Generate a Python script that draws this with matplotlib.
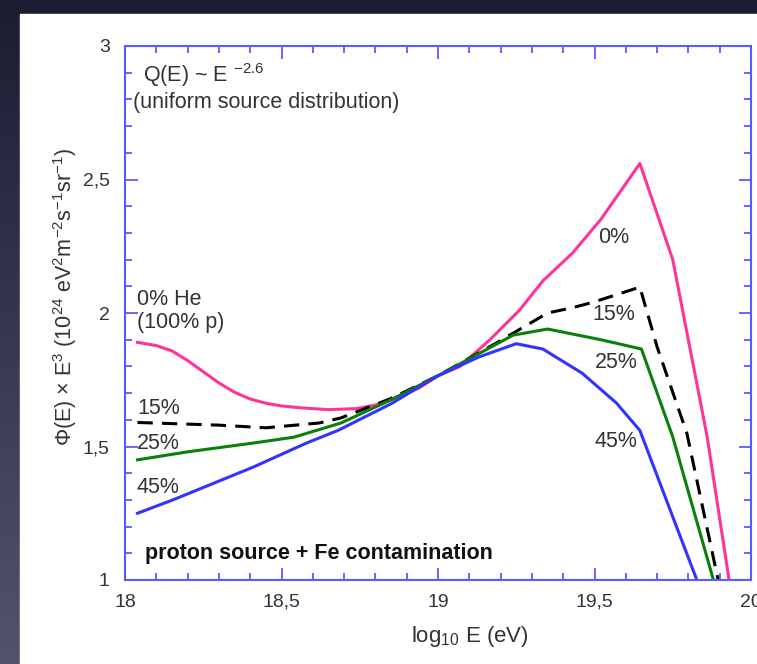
import numpy as np
import matplotlib
matplotlib.use("Agg")
import matplotlib.pyplot as plt
from matplotlib.ticker import MultipleLocator, FuncFormatter
from matplotlib.patches import Rectangle

plt.rcParams['font.family'] = ['Liberation Sans', 'DejaVu Sans']
plt.rcParams['mathtext.fontset'] = 'custom'
plt.rcParams['mathtext.rm'] = 'Liberation Sans'
plt.rcParams['mathtext.it'] = 'Liberation Sans:italic'
plt.rcParams['mathtext.bf'] = 'Liberation Sans:bold'

# Propagated spectra E^3 * flux for several Fe fractions at the source
x_0 = [18.04, 18.10, 18.15, 18.20, 18.25, 18.30, 18.35, 18.40, 18.45, 18.50,
       18.56, 18.65, 18.74, 18.82, 18.94, 19.0, 19.07, 19.166, 19.26, 19.335,
       19.43, 19.52, 19.645, 19.75, 19.86, 19.93]
y_0 = [1.89, 1.878, 1.858, 1.822, 1.78, 1.738, 1.703, 1.678, 1.662, 1.652,
       1.645, 1.638, 1.642, 1.66, 1.72, 1.765, 1.80, 1.90, 2.01, 2.12,
       2.225, 2.35, 2.56, 2.20, 1.536, 1.0]

x_15 = [18.04, 18.30, 18.45, 18.62, 18.69, 18.85, 19.0, 19.19, 19.35, 19.43,
        19.495, 19.645, 19.70, 19.795, 19.895]
y_15 = [1.59, 1.58, 1.57, 1.588, 1.607, 1.68, 1.765, 1.89, 2.0, 2.02,
        2.04, 2.097, 1.873, 1.55, 1.0]

x_25 = [18.04, 18.2, 18.41, 18.54, 18.69, 18.85, 19.0, 19.134, 19.24, 19.35,
        19.52, 19.65, 19.75, 19.88]
y_25 = [1.45, 1.48, 1.513, 1.535, 1.588, 1.675, 1.765, 1.85, 1.917, 1.94,
        1.90, 1.865, 1.536, 1.0]

x_45 = [18.04, 18.153, 18.41, 18.58, 18.68, 18.85, 19.0, 19.13, 19.25, 19.335,
        19.46, 19.57, 19.645, 19.827]
y_45 = [1.25, 1.30, 1.423, 1.513, 1.56, 1.66, 1.765, 1.835, 1.885, 1.865,
        1.775, 1.663, 1.56, 1.0]

x_ticks = [18, 18.5, 19, 19.5, 20]
y_ticks = [1, 1.5, 2, 2.5, 3]

W, H = 757, 664
fig = plt.figure(figsize=(W / 100, H / 100), dpi=100)

# slide-style dark backdrop with a light gradient toward the bottom
bg = fig.add_axes([0, 0, 1, 1])
grad = np.linspace(0, 1, 256)[:, None]
top = np.array([0.11, 0.11, 0.20])
bot = np.array([0.32, 0.33, 0.42])
img = top[None, None, :] * (1 - grad[:, :, None]) + bot[None, None, :] * grad[:, :, None]
bg.imshow(img, aspect='auto', extent=[0, 1, 0, 1], origin='upper')
bg.add_patch(Rectangle((20 / W, 0), 1, (H - 14) / H, color='white', zorder=2))
bg.set_xlim(0, 1)
bg.set_ylim(0, 1)
bg.axis('off')

L, R, T, B = 125, 751, 46, 580
ax = fig.add_axes([L / W, (H - B) / H, (R - L) / W, (B - T) / H])
ax.set_facecolor('white')

ax.plot(x_0, y_0, color='#ff3399', lw=2.2)
ax.plot(x_15, y_15, color='black', lw=2.2, linestyle=(0, (5, 3)))
ax.plot(x_25, y_25, color='#0a800a', lw=2.2)
ax.plot(x_45, y_45, color='#3333ff', lw=2.2)

ax.set_xlim(18, 20)
ax.set_ylim(1, 3)

spine_c = '#5a5aff'
for s in ax.spines.values():
    s.set_color(spine_c)
    s.set_linewidth(1.5)

ax.set_xticks(x_ticks)
ax.set_yticks(y_ticks)
ax.xaxis.set_minor_locator(MultipleLocator(0.1))
ax.yaxis.set_minor_locator(MultipleLocator(0.1))
fmt = FuncFormatter(lambda v, p: ('%g' % v).replace('.', ','))
ax.xaxis.set_major_formatter(fmt)
ax.yaxis.set_major_formatter(fmt)
ax.tick_params(which='both', direction='in', top=True, right=True,
               color=spine_c, width=1.3, labelsize=14, labelcolor='#333333')
ax.tick_params(which='major', length=9, pad=10)
ax.tick_params(axis='y', which='major', pad=11)
ax.tick_params(which='minor', length=5)

ax.set_xlabel('log$_{10}$ E (eV)', fontsize=16, color='#333333')
ax.xaxis.set_label_coords(0.551, -0.082)
ax.set_ylabel('Φ(E) × E$^{3}$ (10$^{24}$ eV$^{2}$m$^{-2}$s$^{-1}$sr$^{-1}$)',
              fontsize=15.5, color='#333333')
ax.yaxis.set_label_coords(-0.074, 0.53)

tc = '#333333'
fs = 15.5
ax.text(18.0575, 2.891, 'Q(E) ~ E $^{-2.6}$', fontsize=fs, color=tc, va='center')
ax.text(18.0256, 2.790, '(uniform source distribution)', fontsize=fs, color=tc, va='center')
ax.text(18.038, 2.049, '0% He', fontsize=fs, color=tc, va='center')
ax.text(18.038, 1.966, '(100% p)', fontsize=fs, color=tc, va='center')
ax.text(18.038, 1.644, '15%', fontsize=fs, color=tc, va='center')
ax.text(18.038, 1.513, '25%', fontsize=fs, color=tc, va='center')
ax.text(18.038, 1.345, '45%', fontsize=fs, color=tc, va='center')
ax.text(19.56, 2.281, '0%', fontsize=fs, color=tc, va='center', ha='center')
ax.text(19.56, 1.993, '15%', fontsize=fs, color=tc, va='center', ha='center')
ax.text(19.57, 1.813, '25%', fontsize=fs, color=tc, va='center', ha='center')
ax.text(19.57, 1.52, '45%', fontsize=fs, color=tc, va='center', ha='center')
ax.text(18.064, 1.101, 'proton source + Fe contamination', fontsize=15.5,
        fontweight='bold', color='#111111', va='center')

fig.savefig('out.png', dpi=100)
